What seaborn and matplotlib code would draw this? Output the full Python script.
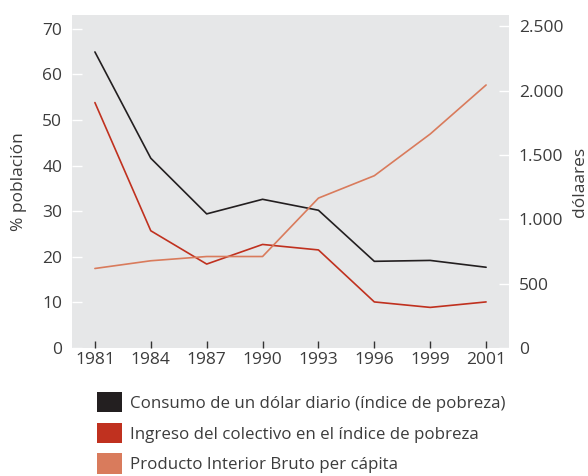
import matplotlib
matplotlib.use("Agg")
import matplotlib.pyplot as plt
from matplotlib.patches import Patch
import seaborn as sns
import pandas as pd

years = ["1981", "1984", "1987", "1990", "1993", "1996", "1999", "2001"]
consumo = [64.9, 41.6, 29.4, 32.6, 30.2, 19.0, 19.2, 17.7]
ingreso = [53.8, 25.7, 18.4, 22.7, 21.5, 10.1, 8.9, 10.1]
pib = [618, 678, 711, 711, 1165, 1339, 1663, 2044]
left_ticks = [0, 10, 20, 30, 40, 50, 60, 70]
right_ticks = [0, 500, 1000, 1500, 2000, 2500]
right_labels = ["0", "500", "1.000", "1.500", "2.000", "2.500"]
labels = ["Consumo de un dólar diario (índice de pobreza)",
          "Ingreso del colectivo en el índice de pobreza",
          "Producto Interior Bruto per cápita"]
colors = ["#231f20", "#c0311f", "#d97b5c"]

sns.set_theme(style="white")
plt.rcParams['font.family'] = ['Open Sans', 'DejaVu Sans']
txt = "#3c3c3c"

fig = plt.figure(figsize=(5.88, 4.76), dpi=100)
ax = fig.add_axes([72/588, 1-348/476, (509-72)/588, (348-15)/476])
ax.set_facecolor("#e6e7e8")
ax2 = ax.twinx()

pos = list(range(len(years)))
df = pd.DataFrame({"pos": pos, "consumo": consumo, "ingreso": ingreso, "pib": pib})
sns.lineplot(data=df, x="pos", y="consumo", ax=ax, color=colors[0], lw=1.2)
sns.lineplot(data=df, x="pos", y="ingreso", ax=ax, color=colors[1], lw=1.2)
sns.lineplot(data=df, x="pos", y="pib", ax=ax2, color=colors[2], lw=1.2)

ax.set_xlim(-0.41, len(years) - 1 + 0.41)
ax.set_ylim(0, 73)
ax2.set_ylim(0, 2588)
ax.set_xticks(pos)
ax.set_xticklabels(years)
ax.set_yticks(left_ticks)
ax2.set_yticks(right_ticks)
ax2.set_yticklabels(right_labels)

for s in list(ax.spines.values()) + list(ax2.spines.values()):
    s.set_visible(False)

ax.tick_params(axis='y', direction='in', length=7, width=1, color='white',
               labelsize=12.5, labelcolor=txt, pad=7, left=True)
ax.tick_params(axis='x', direction='in', length=5, width=1, color='#333333',
               labelsize=12.5, labelcolor=txt, pad=3, bottom=True)
ax2.tick_params(axis='y', direction='in', length=7, width=1, color='white',
                labelsize=12.5, labelcolor=txt, pad=7, right=True)

ax.set_xlabel("")
ax.set_ylabel("% población", fontsize=12.5, color=txt, labelpad=11)
ax2.set_ylabel("dólaares", fontsize=12.5, color=txt, labelpad=6)

handles = [Patch(facecolor=c, edgecolor='none') for c in colors]
fig.legend(handles, labels, loc='upper left', bbox_to_anchor=(90/588, 1-385/476),
           frameon=False, fontsize=12.2, handlelength=1.5, handleheight=1.5,
           handletextpad=0.45, labelspacing=0.6, labelcolor=txt, borderaxespad=0)

fig.savefig("out.png", dpi=100)
